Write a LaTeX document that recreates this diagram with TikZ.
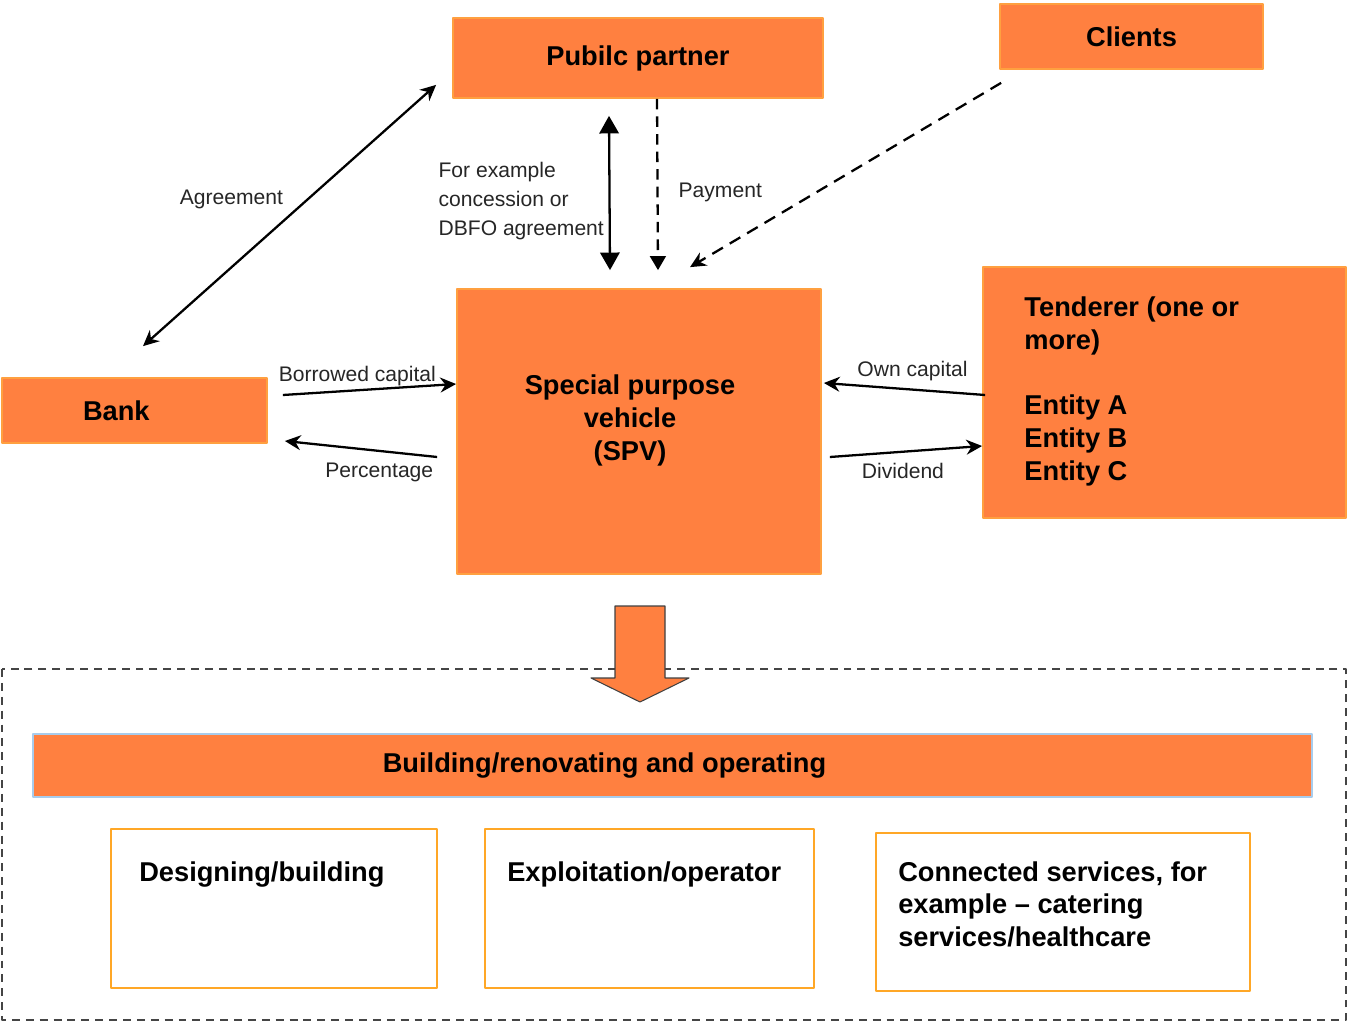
\documentclass[tikz,border=0pt]{standalone}
\usepackage{fontspec}
\setmainfont{Liberation Sans}
\usetikzlibrary{arrows.meta,positioning}

\definecolor{pppfill}{HTML}{FF8040}
\definecolor{pppedge}{HTML}{FFA040}
\definecolor{pppline}{HTML}{FFA726}
\definecolor{pppblue}{HTML}{A8CCEC}
\definecolor{pppframe}{HTML}{454545}

\begin{document}
\begin{tikzpicture}[
  line join=round, >={Stealth[length=9pt,width=8.5pt]},
  box/.style={draw=pppedge, fill=pppfill, line width=1pt, align=center,
              font=\bfseries\fontsize{15.5}{18.7}\selectfont},
  svc/.style={draw=pppline, line width=1.2pt, minimum width=6.55cm,
              minimum height=3.18cm},
  head/.style={inner sep=0pt, align=left,
               font=\bfseries\fontsize{15.5}{18.7}\selectfont},
  lbl/.style={font=\fontsize{12}{16.4}\selectfont, text=black!85, inner sep=2pt},
  flow/.style={line width=1.3pt},
  dflow/.style={line width=1.3pt, dash pattern=on 6pt off 4pt},
  twoway/.style={{Triangle[length=10pt,width=11pt]}-{Triangle[length=10pt,width=11pt]}}
]

  \useasboundingbox (0,0) rectangle (26.96,-20.5);

  % ── Parties ───────────────────────────────────────────────────────────────

  \node[box, minimum width=7.4cm, minimum height=1.6cm] (pub) at (12.76,-1.16)
      {Pubilc partner};
  \node[box, minimum width=5.26cm, minimum height=1.3cm] (clients) at (22.63,-0.73)
      {Clients};
  \node[box, minimum height=1.3cm, align=left, text width=2.06cm,
        inner xsep=1.62cm] (bank) at (2.69,-8.21) {Bank};
  \node[box, minimum width=7.28cm, minimum height=5.7cm,
        label={[font=\bfseries\fontsize{15.5}{18.7}\selectfont, align=center,
                xshift=-0.18cm, yshift=0.22cm]center:Special purpose\\vehicle\\(SPV)}]
      (spv) at (12.78,-8.63) {};
  \node[box, minimum width=7.26cm, minimum height=5.02cm] (tend) at (23.29,-7.85) {};
  \node[head, below right=0.6cm and 0.84cm of tend.north west] (tendtxt)
      {Tenderer (one or\\more)\\[18.7pt]Entity A\\Entity B\\Entity C};

  % ── Contracts and money flows ─────────────────────────────────────────────

  % Agreement: public partner <-> bank
  \draw[flow, <->] ([xshift=-0.32cm, yshift=0.28cm]pub.south west)
    -- ([xshift=0.17cm, yshift=0.62cm]bank.north)
    node[lbl, pos=0.44, left, xshift=-0.39cm] {Agreement};

  % Concession: public partner <-> SPV
  \draw[flow, twoway] ([xshift=-0.58cm, yshift=-0.34cm]pub.south)
    -- ([xshift=-0.58cm, yshift=0.36cm]spv.north)
    node[lbl, midway, left, align=left, xshift=-0.02cm, yshift=-0.16cm]
      {For example\\concession or\\DBFO agreement};

  % Payment: public partner -> SPV
  \draw[dflow, -{Triangle[length=8pt,width=9pt]}] ([xshift=0.38cm]pub.south)
    -- ([xshift=0.38cm, yshift=0.36cm]spv.north)
    node[lbl, midway, right, xshift=0.33cm, yshift=-0.15cm] {Payment};

  % Clients -> SPV
  \draw[line width=1.3pt, dash pattern=on 7pt off 4.5pt, ->]
    ([xshift=0.04cm, yshift=-0.26cm]clients.south west)
    -- ([xshift=1.02cm, yshift=0.42cm]spv.north);

  % Bank <-> SPV
  \draw[flow, ->] ([xshift=0.3cm, yshift=0.31cm]bank.east)
    -- ([yshift=0.95cm]spv.west)
    node[lbl, pos=0.43, above] {Borrowed capital};
  \draw[flow, ->] ([xshift=-0.38cm, yshift=-0.51cm]spv.west)
    -- ([xshift=0.34cm, yshift=-0.61cm]bank.east)
    node[lbl, pos=0.38, below, yshift=-0.14cm] {Percentage};

  % Tenderer <-> SPV
  \draw[flow, ->] ([xshift=0.06cm, yshift=-0.05cm]tend.west)
    -- ([xshift=0.04cm, yshift=0.97cm]spv.east)
    node[lbl, pos=0.45, above, yshift=0.08cm] {Own capital};
  \draw[flow, ->] ([xshift=0.16cm, yshift=-0.51cm]spv.east)
    -- ([yshift=-1.07cm]tend.west)
    node[lbl, pos=0.48, below, yshift=-0.14cm] {Dividend};

  % ── Project delivery ──────────────────────────────────────────────────────

  % Dashed frame
  \draw[pppframe, line width=1.2pt, dash pattern=on 4.5pt off 3.4pt]
    (0.04,-13.38) rectangle (26.92,-20.4);

  % Block arrow down from the SPV
  \filldraw[fill=pppfill, draw=black!75, line width=0.6pt]
    (12.3,-12.12) -- (13.3,-12.12) -- (13.3,-13.56) -- (13.78,-13.56)
    -- (12.8,-14.04) -- (11.82,-13.56) -- (12.3,-13.56) -- cycle;

  \node[box, draw=pppblue, minimum width=25.58cm, minimum height=1.26cm,
        label={[font=\bfseries\fontsize{15.5}{18.7}\selectfont,
                xshift=-1.36cm]center:Building/renovating and operating}]
      (build) at (13.45,-15.31) {};

  \node[svc, minimum width=6.52cm] (design) at (5.48,-18.17) {};
  \node[head, below right=0.66cm and 0.58cm of design.north west] (designtxt)
      {Designing/building};

  \node[svc, minimum width=6.58cm] (operate) at (12.99,-18.17) {};
  \node[head, below right=0.66cm and 0.46cm of operate.north west] (operatetxt)
      {Exploitation/operator};

  \node[svc, minimum width=7.48cm, minimum height=3.16cm] (extra) at (21.26,-18.24) {};
  \node[head, below right=0.58cm and 0.46cm of extra.north west] (extratxt)
      {Connected services, for\\example – catering\\services/healthcare};

\end{tikzpicture}
\end{document}
